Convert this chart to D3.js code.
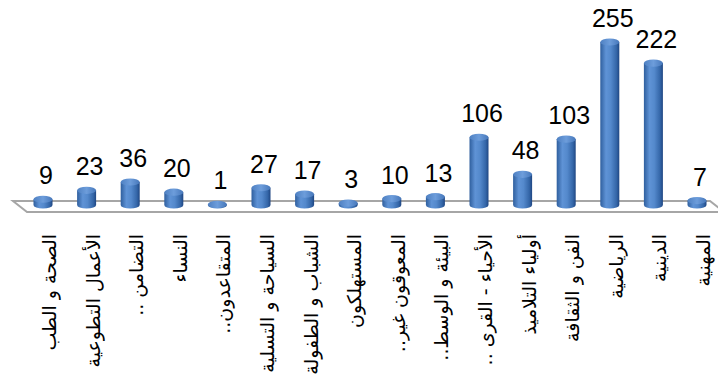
<!DOCTYPE html>
<html><head><meta charset="utf-8">
<script src="https://cdn.jsdelivr.net/npm/d3@7"></script>
<style>html,body{margin:0;padding:0;background:#fff;}svg{display:block;}</style>
</head><body>
<script>
const categories = ["الصحة و الطب","الأعمال التطوعية","التضامن ..","النساء","المتقاعدون..","السياحة و التسلية","الشباب و الطفولة","المستهلكون","المعوقون غير..","البيئة و الوسط..","الأحياء - القرى ..","أولياء التلاميذ","الفن و الثقافة","الرياضية","الدينية","المهنية"];
const values = [9,23,36,20,1,27,17,3,10,13,106,48,103,255,222,7];

const W = 718, H = 389;
const svg = d3.select("body").append("svg").attr("width", W).attr("height", H);
const defs = svg.append("defs");
const g1 = defs.append("linearGradient").attr("id","cyl").attr("x1","0").attr("x2","1").attr("y1","0").attr("y2","0");
[["0%","#2f5f9e"],["30%","#5f93d6"],["55%","#5489cc"],["85%","#3466a8"],["100%","#1f4682"]].forEach(s=>g1.append("stop").attr("offset",s[0]).attr("stop-color",s[1]));
const g2 = defs.append("linearGradient").attr("id","cap").attr("x1","0").attr("x2","1").attr("y1","0").attr("y2","0");
[["0%","#4e80c2"],["50%","#6d9ddb"],["100%","#4677ba"]].forEach(s=>g2.append("stop").attr("offset",s[0]).attr("stop-color",s[1]));

const x = d3.scaleBand().domain(categories).range([21.2, 718.8]).paddingInner(0.564).paddingOuter(0.282);
const y = d3.scaleLinear().domain([0, 255]).range([205, 42]);
const ry = 3.6;

// floor
svg.append("polygon")
  .attr("points", [[13,201],[710,201],[724,212],[27,212]].map(p=>p.join(",")).join(" "))
  .attr("fill","#ffffff").attr("stroke","#a6a6a6").attr("stroke-width",2);

const bars = svg.append("g").selectAll("g").data(categories).join("g");
bars.each(function(c, i){
  const gg = d3.select(this);
  const x0 = x(c), bw = x.bandwidth(), rx = bw/2, x1 = x0 + bw;
  const yb = y(0), yt = y(values[i]);
  gg.append("path")
    .attr("d", `M${x0},${yt} L${x0},${yb} A${rx},${ry} 0 0 0 ${x1},${yb} L${x1},${yt} Z`)
    .attr("fill","url(#cyl)");
  gg.append("ellipse").attr("cx", x0+rx).attr("cy", yt).attr("rx", rx).attr("ry", ry)
    .attr("fill","url(#cap)");
});

svg.append("g").selectAll("text").data(categories).join("text")
  .attr("x", c => x(c) + x.bandwidth()/2 + 3)
  .attr("y", (c,i) => y(values[i]) - 15)
  .attr("text-anchor","middle")
  .attr("font-family","Liberation Sans, Arial, sans-serif")
  .attr("font-size", 25)
  .attr("fill","#000")
  .text((c,i) => values[i]);

svg.append("g").selectAll("text").data(categories).join("text")
  .attr("transform", c => `translate(${x(c) + x.bandwidth()/2 + 6},234) rotate(-90)`)
  .attr("direction","rtl")
  .style("direction","rtl")
  .attr("text-anchor","start")
  .attr("dominant-baseline","central")
  .attr("font-family","DejaVu Sans, sans-serif")
  .attr("font-size", 19)
  .attr("fill","#000")
  .text(c => c);
</script>
</body></html>
